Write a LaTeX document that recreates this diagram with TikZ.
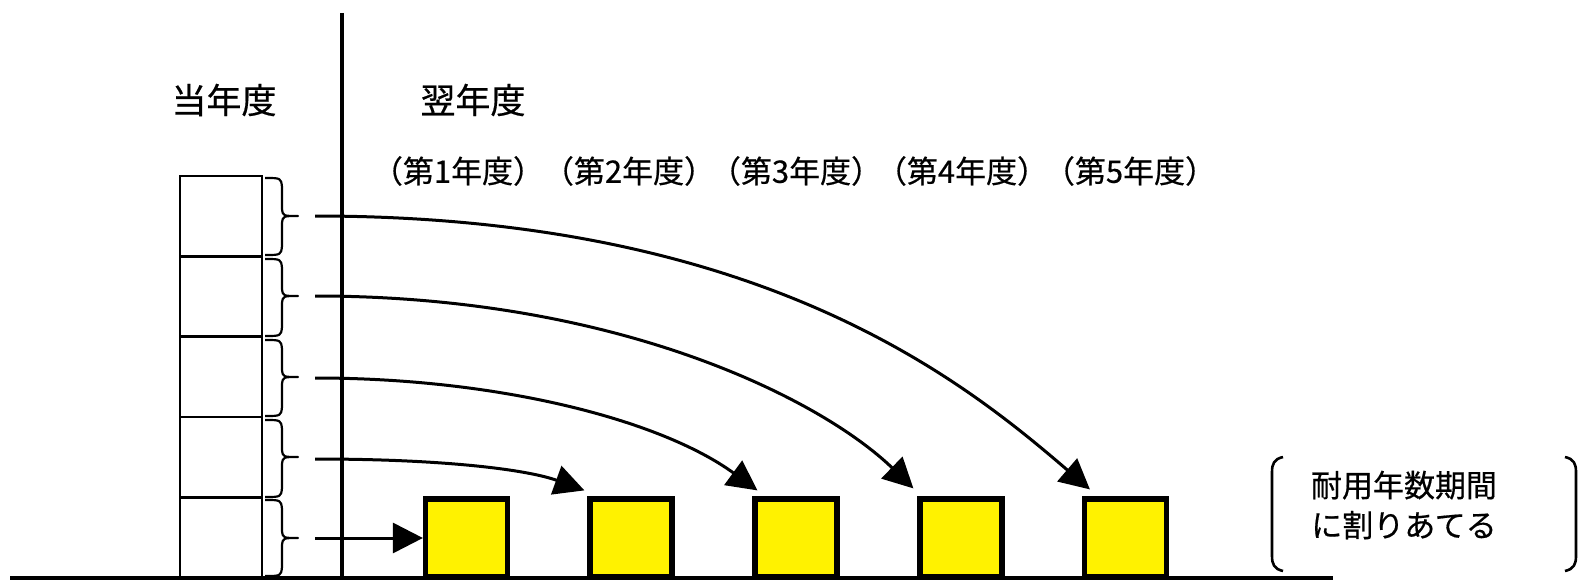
\documentclass[tikz,border=0pt]{standalone}
\usepackage{fontspec}
\newfontfamily\jp[FakeBold=0.5]{Noto Sans CJK JP}
\usetikzlibrary{arrows.meta,calc}
\tikzset{
  stackbox/.style={draw,line width=1.3pt,minimum width=41pt,minimum height=40.1pt,inner sep=0pt},
  ybox/.style={draw,fill=yellow,line width=2.6pt,minimum width=41pt,minimum height=39pt,inner sep=0pt},
  bracebr/.style={line width=1.1pt,line join=round},
  conn/.style={line width=1.5pt,-{Triangle[length=15pt,width=15pt]}},
  head/.style={font=\jp\fontsize{17.5pt}{20pt}\selectfont,inner sep=0pt},
  yrlab/.style={font=\jp\fontsize{15.5pt}{18pt}\selectfont,inner sep=0pt},
  note/.style={font=\jp\fontsize{15.5pt}{20pt}\selectfont,inner sep=0pt,align=center}
}
\begin{document}
\begin{tikzpicture}[x=0.5pt,y=-0.5pt]
\useasboundingbox (0,0) rectangle (1585,583);
% axes
\draw[line width=2pt] (10,578) -- (1333,578);
\draw[line width=2pt] (342,13) -- (342,578);
% headers
\node[head] (cur) at (224,100) {当年度};
\node[head] (nxt) at (473,100) {翌年度};
\node[yrlab] (l1) at (458,171) {（第1年度）};
\node[yrlab] (l2) at (629,171) {（第2年度）};
\node[yrlab] (l3) at (796,171) {（第3年度）};
\node[yrlab] (l4) at (962,171) {（第4年度）};
\node[yrlab] (l5) at (1130,171) {（第5年度）};
% stack
\foreach \i/\y in {1/216,2/296.5,3/377,4/457,5/537.5}{
  \node[stackbox] (k\i) at (221,\y) {};
}
% braces
\foreach \a/\m/\b in {178/216/255,259/296/336,340/377/416,420/457/497,500/538/576}{
  \draw[bracebr] (265,\a) .. controls (281,\a) .. (282,\a+9) -- (282,\m-7)
     .. controls (283,\m) .. (298,\m) .. controls (283,\m) .. (282,\m+7)
     -- (282,\b-9) .. controls (281,\b) .. (265,\b);
}
\coordinate (s1) at (315,216);
\coordinate (s2) at (315,296);
\coordinate (s3) at (315,378);
\coordinate (s4) at (315,459);
\coordinate (s5) at (315,538);
% yellow boxes
\node[ybox] (y1) at (466.5,538) {};
\node[ybox] (y2) at (631,538) {};
\node[ybox] (y3) at (796,538) {};
\node[ybox] (y4) at (961,538) {};
\node[ybox] (y5) at (1125.5,538) {};
\coordinate (t2) at ($(y2.north west)+(-3,-6)$);
\coordinate (t3) at ($(y3.north west)+(5,-6)$);
\coordinate (t4) at ($(y4.north west)+(-4,-8)$);
\coordinate (t5) at ($(y5.north west)+(8,-7)$);
% arrows
\draw[conn] (s5) -- (y1.west);
\draw[conn] (s4) .. controls +(135,0) and +(-55,-20) .. (t2);
\draw[conn] (s3) .. controls +(185,0) and +(-96,-70) .. (t3);
\draw[conn] (s2) .. controls +(305,0) and +(-91,-88) .. (t4);
\draw[conn] (s1) .. controls +(445,0) and +(-128,-110) .. (t5);
% note
\node[note] (nt) at (1404,505) {耐用年数期間\\に割りあてる};
\draw[line width=1.3pt] (1283,457) .. controls (1274,459) and (1272,464) .. (1272,472) -- (1272,556) .. controls (1272,564) and (1274,569) .. (1283,571);
\draw[line width=1.3pt] (1565,457) .. controls (1574,459) and (1576,464) .. (1576,472) -- (1576,556) .. controls (1576,564) and (1574,569) .. (1565,571);
\end{tikzpicture}
\end{document}
